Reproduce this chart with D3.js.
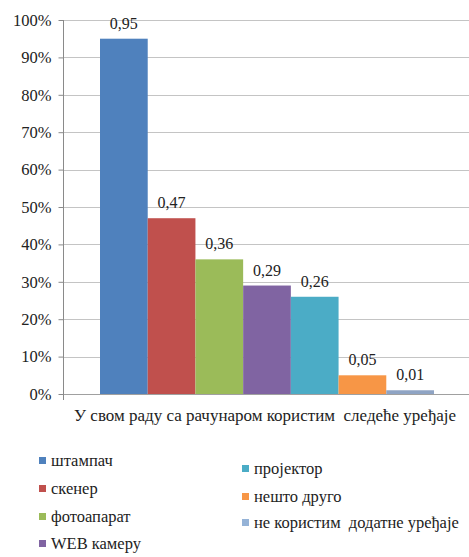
<!DOCTYPE html>
<html><head><meta charset="utf-8">
<script src="https://cdn.jsdelivr.net/npm/d3@7"></script>
<style>body{margin:0;background:#fff}svg{display:block}svg text{white-space:pre}</style>
</head><body>
<svg id="c" width="469" height="557"></svg>
<script>
const categories = ["штампач","скенер","фотоапарат","WEB камеру","пројектор","нешто друго","не користим  додатне уређаје"];
const values = [0.95,0.47,0.36,0.29,0.26,0.05,0.01];
const labels = ["0,95","0,47","0,36","0,29","0,26","0,05","0,01"];
const colors = ["#4F81BD","#C0504D","#9BBB59","#8064A2","#4BACC6","#F79646","#8FA4C4"];
const legendColors = ["#4F81BD","#C0504D","#9BBB59","#8064A2","#4BACC6","#F79646","#95B3D7"];
const yTicks = [0,0.1,0.2,0.3,0.4,0.5,0.6,0.7,0.8,0.9,1];
const groupLabel = "У свом раду са рачунаром користим  следеће уређаје";

const FONT = "'Liberation Serif', 'DejaVu Serif', serif";
const svg = d3.select("#c");
const pLeft = 63, pRight = 471, pTop = 20, pBottom = 394;
const y = d3.scaleLinear().domain([0,1]).range([pBottom, pTop]);
const x1 = d3.scaleBand().domain(categories).range([100, 434]).padding(0);

// gridlines
svg.append("g").selectAll("line").data(yTicks).join("line")
  .attr("x1", pLeft).attr("x2", 469).attr("y1", d=>Math.round(y(d))+0.5).attr("y2", d=>Math.round(y(d))+0.5)
  .attr("stroke", d=> d===0 ? "#a0a0a0" : "#c4c4c4").attr("stroke-width",1);

// y axis
const ya = svg.append("g").attr("transform",`translate(${pLeft+0.5},0)`)
  .call(d3.axisLeft(y).tickValues(yTicks).tickSize(5).tickPadding(7).tickFormat(d3.format(".0%")));
ya.attr("font-family", null).attr("font-size", null);
ya.select(".domain").attr("stroke","#8a8a8a").attr("d",`M0,${pTop}V${pBottom+6}`);
ya.selectAll(".tick line").attr("stroke","#8a8a8a");
ya.selectAll(".tick text").style("font-family",FONT).style("font-size","16.5px").attr("fill","#222");

// bars
svg.append("g").selectAll("rect").data(values).join("rect")
  .attr("x",(d,i)=>x1(categories[i])).attr("width",x1.bandwidth())
  .attr("y",d=>y(d)).attr("height",d=>pBottom - y(d)).attr("fill",(d,i)=>colors[i]);

// value labels
svg.append("g").selectAll("text").data(values).join("text")
  .attr("x",(d,i)=>x1(categories[i])+x1.bandwidth()/2).attr("y",d=>y(d)-10)
  .attr("text-anchor","middle").style("font-family",FONT).style("font-size","16px").attr("fill","#222").text((d,i)=>labels[i]);

// x label
svg.append("text").attr("x",265).attr("y",421).attr("text-anchor","middle")
  .style("font-family",FONT).style("font-size","17px").attr("fill","#222").text(groupLabel);

// legend
const legPos = [[39,461],[39,489],[39,517],[39,544],[242,469],[242,497],[242,523]];
const lg = svg.append("g");
categories.forEach((c,i)=>{
  const [lx,ly] = legPos[i];
  lg.append("rect").attr("x",lx).attr("y",ly-4).attr("width",7).attr("height",7).attr("fill",legendColors[i]);
  lg.append("text").attr("x",lx+12).attr("y",ly+5).style("font-family",FONT).style("font-size","16.5px").attr("fill","#222").text(c);
});
</script>
</body></html>
